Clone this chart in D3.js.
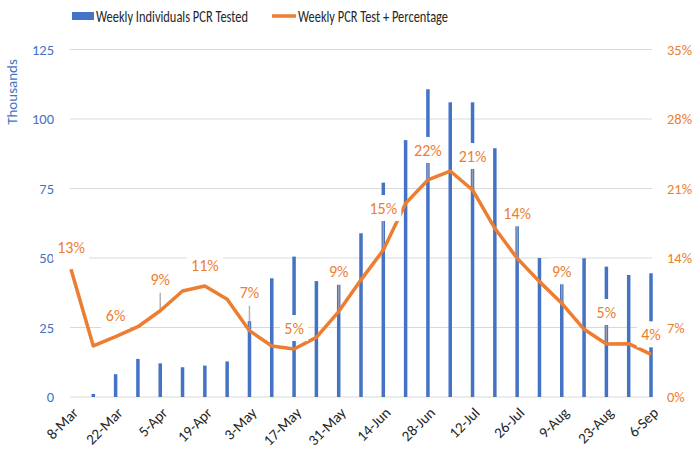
<!DOCTYPE html>
<html>
<head>
<meta charset="utf-8">
<script src="https://cdn.jsdelivr.net/npm/d3@7"></script>
<style>
  body { margin: 0; background: #fff; }
  svg text { font-family: Carlito, Lato, "Liberation Sans", sans-serif; }
</style>
</head>
<body>
<div id="chart"></div>
<script>
var width = 697, height = 460;

// weeks
var weeks = ["8-Mar","15-Mar","22-Mar","29-Mar","5-Apr","12-Apr","19-Apr","26-Apr",
  "3-May","10-May","17-May","24-May","31-May","7-Jun","14-Jun","21-Jun","28-Jun",
  "5-Jul","12-Jul","19-Jul","26-Jul","2-Aug","9-Aug","16-Aug","23-Aug","30-Aug","6-Sep"];
// weekly individuals PCR tested (thousands)
var tested = [0, 1.1, 8.2, 13.7, 12.1, 10.7, 11.3, 12.8, 27.3, 42.7, 50.5, 41.7, 40.5,
  58.9, 77.1, 92.4, 110.7, 106, 106, 89.5, 61.9, 50, 41.1, 49.9, 46.9, 43.9, 44.5];
// weekly PCR test + percentage
var positive = [0.1286, 0.0514, 0.0608, 0.0708, 0.0869, 0.1068, 0.1118, 0.0984, 0.0668,
  0.0514, 0.0483, 0.0601, 0.086, 0.118, 0.148, 0.195, 0.2186, 0.2276, 0.2085, 0.1699,
  0.1397, 0.1162, 0.0944, 0.0682, 0.0534, 0.0537, 0.043];
var leftTicks = [0, 25, 50, 75, 100, 125];
var rightTicks = [0, 0.07, 0.14, 0.21, 0.28, 0.35];

// label offset above point (px), only every other week gets a label
var labelDy = {0:-22, 2:-21, 4:-31, 6:-21, 8:-38, 10:-21, 12:-40, 14:-42,
  16:-30, 18:-34, 20:-45, 22:-32, 24:-32, 26:-20};

var blue = "#4472C4", orange = "#ED7D31";
var pct = d3.format(".0%");

var svg = d3.select("#chart").append("svg")
  .attr("width", width).attr("height", height);

var x = d3.scalePoint().domain(weeks).range([71, 651]);
var yL = d3.scaleLinear().domain([0, 125]).range([397, 49.5]);
var yR = d3.scaleLinear().domain([0, 0.35]).range([397, 49.5]);

// gridlines
svg.append("g").selectAll("line")
  .data(leftTicks)
  .enter().append("line")
  .attr("x1", 70).attr("x2", 652)
  .attr("y1", function (d) { return yL(d); })
  .attr("y2", function (d) { return yL(d); })
  .attr("stroke", "#D9D9D9").attr("stroke-width", 1);

// left axis
var axL = svg.append("g").attr("transform", "translate(54,0)")
  .call(d3.axisLeft(yL).tickValues(leftTicks).tickSize(0).tickPadding(0));
axL.select(".domain").remove();
axL.selectAll("text").attr("fill", blue).attr("font-size", "14.5px")
  .style("font-family", "Carlito, Lato, sans-serif");

// right axis
var axR = svg.append("g").attr("transform", "translate(667,0)")
  .call(d3.axisRight(yR).tickValues(rightTicks).tickFormat(pct).tickSize(0).tickPadding(0));
axR.select(".domain").remove();
axR.selectAll("text").attr("fill", orange).attr("font-size", "14.5px")
  .style("font-family", "Carlito, Lato, sans-serif");

// x axis labels (every other week)
var axX = svg.append("g").attr("transform", "translate(0,397)")
  .call(d3.axisBottom(x).tickValues(weeks.filter(function (d, i) { return i % 2 === 0; }))
    .tickSize(0).tickPadding(0));
axX.select(".domain").remove();
axX.selectAll("text")
  .attr("fill", "#262626").attr("font-size", "15px")
  .style("font-family", "Carlito, Lato, sans-serif")
  .attr("text-anchor", "end")
  .attr("dy", "0.35em")
  .attr("transform", "translate(4,13) rotate(-45)");

// y title
svg.append("text")
  .attr("transform", "translate(17,92) rotate(-90)")
  .attr("text-anchor", "middle")
  .attr("fill", blue).attr("font-size", "15px")
  .text("Thousands");

// bars
svg.append("g").selectAll("rect")
  .data(tested)
  .enter().append("rect")
  .attr("x", function (d, i) { return x(weeks[i]) - 1.75; })
  .attr("width", 3.5)
  .attr("y", function (d) { return yL(d); })
  .attr("height", function (d) { return yL(0) - yL(d); })
  .attr("fill", blue);

// leader lines
var labelled = d3.range(weeks.length).filter(function (i) { return labelDy[i] !== undefined; });
svg.append("g").selectAll("line")
  .data(labelled.filter(function (i) { return labelDy[i] < -25; }))
  .enter().append("line")
  .attr("x1", function (i) { return x(weeks[i]); })
  .attr("x2", function (i) { return x(weeks[i]); })
  .attr("y1", function (i) { return yR(positive[i]) + labelDy[i] + 12; })
  .attr("y2", function (i) { return yR(positive[i]); })
  .attr("stroke", "#A6A6A6").attr("stroke-width", 1.5).attr("opacity", 0.85);

// line
var line = d3.line()
  .x(function (d, i) { return x(weeks[i]); })
  .y(function (d) { return yR(d); });
svg.append("path")
  .datum(positive)
  .attr("d", line)
  .attr("fill", "none")
  .attr("stroke", orange)
  .attr("stroke-width", 3.5)
  .attr("stroke-linejoin", "round");

// data labels
var lab = svg.append("g").selectAll("g")
  .data(labelled)
  .enter().append("g")
  .attr("transform", function (i) {
    return "translate(" + x(weeks[i]) + "," + (yR(positive[i]) + labelDy[i]) + ")";
  });
lab.append("rect")
  .attr("x", function (i) { return pct(positive[i]).length > 2 ? -18 : -14; })
  .attr("width", function (i) { return pct(positive[i]).length > 2 ? 36 : 28; })
  .attr("y", -13).attr("height", 26)
  .attr("fill", "#fff");
lab.append("text")
  .attr("text-anchor", "middle")
  .attr("dy", "0.35em")
  .attr("fill", orange).attr("font-size", "16px")
  .text(function (i) { return pct(positive[i]); });

// legend
var leg = svg.append("g");
leg.append("rect").attr("x", 72).attr("y", 12).attr("width", 22).attr("height", 8).attr("fill", blue);
leg.append("text").attr("x", 96).attr("y", 16).attr("dy", "0.35em")
  .attr("fill", "#262626").attr("font-size", "16px")
  .attr("textLength", 152).attr("lengthAdjust", "spacingAndGlyphs")
  .text("Weekly Individuals PCR Tested");
leg.append("line").attr("x1", 272).attr("x2", 296).attr("y1", 16).attr("y2", 16)
  .attr("stroke", orange).attr("stroke-width", 3.5);
leg.append("text").attr("x", 298).attr("y", 16).attr("dy", "0.35em")
  .attr("fill", "#262626").attr("font-size", "16px")
  .attr("textLength", 150).attr("lengthAdjust", "spacingAndGlyphs")
  .text("Weekly PCR Test + Percentage");
</script>
</body>
</html>
